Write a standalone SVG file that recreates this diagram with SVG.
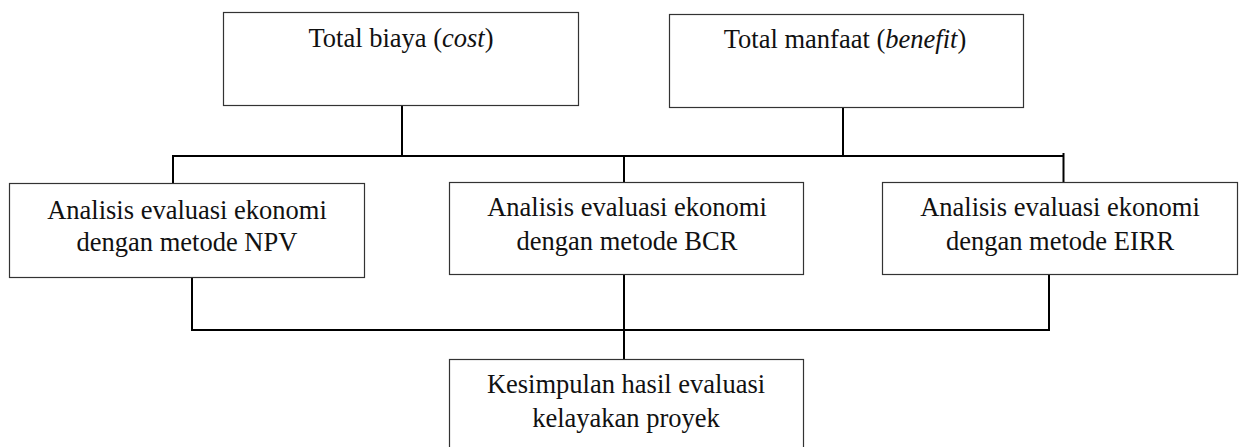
<svg xmlns="http://www.w3.org/2000/svg" width="1239" height="447" viewBox="0 0 1239 447">
  <style>
    .box { fill: #ffffff; stroke: #333333; stroke-width: 1.2; }
    .lbl { font-family: "Liberation Serif", "Times New Roman", serif; font-size: 26.5px; fill: #111111; text-anchor: middle; }
    .conn line { stroke: #000000; stroke-width: 2; }
  </style>
  <rect width="1239" height="447" fill="#ffffff"/>

  <!-- connectors -->
  <g id="connectors" class="conn">
    <line x1="402" y1="105" x2="402" y2="156"/>
    <line x1="843" y1="107" x2="843" y2="156"/>
    <line x1="172" y1="156" x2="1064" y2="156"/>
    <line x1="173" y1="156" x2="173" y2="183"/>
    <line x1="624" y1="156" x2="624" y2="182"/>
    <line x1="1063.5" y1="153" x2="1063.5" y2="182"/>
    <line x1="192" y1="277" x2="192" y2="330"/>
    <line x1="624" y1="274" x2="624" y2="359"/>
    <line x1="1049" y1="275" x2="1049" y2="330"/>
    <line x1="191" y1="330" x2="1050" y2="330"/>
  </g>

  <g id="total-biaya">
    <rect class="box" x="223.5" y="12.5" width="355" height="93"/>
    <text class="lbl" x="401" y="47">Total biaya (<tspan font-style="italic">cost</tspan>)</text>
  </g>

  <g id="total-manfaat">
    <rect class="box" x="669.5" y="14.5" width="354" height="93"/>
    <text class="lbl" x="845" y="48">Total manfaat (<tspan font-style="italic">benefit</tspan>)</text>
  </g>

  <g id="npv">
    <rect class="box" x="9.5" y="183.5" width="355" height="94"/>
    <text class="lbl" x="187" y="219">Analisis evaluasi ekonomi</text>
    <text class="lbl" x="187" y="251">dengan metode NPV</text>
  </g>

  <g id="bcr">
    <rect class="box" x="449.5" y="182.5" width="354" height="92"/>
    <text class="lbl" x="627" y="216">Analisis evaluasi ekonomi</text>
    <text class="lbl" x="627" y="250">dengan metode BCR</text>
  </g>

  <g id="eirr">
    <rect class="box" x="882.5" y="182.5" width="355" height="92"/>
    <text class="lbl" x="1060" y="216">Analisis evaluasi ekonomi</text>
    <text class="lbl" x="1060" y="250">dengan metode EIRR</text>
  </g>

  <g id="kesimpulan">
    <rect class="box" x="449.5" y="359.5" width="354" height="100"/>
    <text class="lbl" x="626" y="393">Kesimpulan hasil evaluasi</text>
    <text class="lbl" x="626" y="427">kelayakan proyek</text>
  </g>
</svg>
